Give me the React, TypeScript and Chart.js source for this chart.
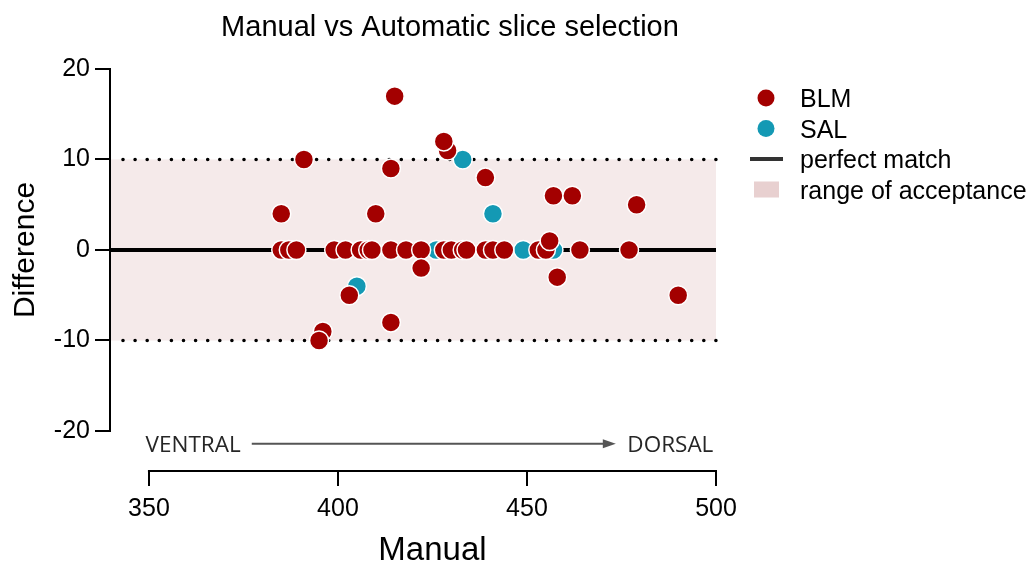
import React, { useEffect, useRef } from "react";
import { Chart, registerables } from "chart.js";

Chart.register(...registerables);

// ---------- data ----------
const blmManual = [
  385, 387, 389, 399, 402, 406, 408, 409, 414, 418, 422, 428, 430, 433, 434, 439, 441, 444, 453, 455, 464, 477,
  385, 391, 396, 395, 403, 410, 414, 414, 415, 422, 429, 428, 439, 457, 458, 462, 456, 479, 490,
];
const blmDiff = [
  0, 0, 0, 0, 0, 0, 0, 0, 0, 0, 0, 0, 0, 0, 0, 0, 0, 0, 0, 0, 0, 0,
  4, 10, -9, -10, -5, 4, 9, -8, 17, -2, 11, 12, 8, 6, -3, 6, 1, 5, -5,
];
const salManual = [405, 426, 433, 441, 449, 457];
const salDiff = [-4, 0, 10, 4, 0, 0];

const xTicks = [350, 400, 450, 500];
const yTicks = [-20, -10, 0, 10, 20];
const acceptanceLimit = 10;
const perfectMatch = 0;

const chartTitle = "Manual vs Automatic slice selection";
const xTitle = "Manual";
const yTitle = "Difference";
const legendLabels = ["BLM", "SAL", "perfect match", "range of acceptance"];
const directionLabels = ["VENTRAL", "DORSAL"];

// ---------- style ----------
const BLM_COLOR = "#a30000";
const SAL_COLOR = "#1499b4";
const BAND_COLOR = "#f5eaea";
const PATCH_COLOR = "#e8d0d0";
const FONT = "'Liberation Sans', Arial, sans-serif";

const overlayPlugin = {
  id: "overlay",
  beforeDatasetsDraw(chart: any) {
    const { ctx, chartArea: ca, scales } = chart;
    const y = scales.y;
    ctx.save();
    const yTop = y.getPixelForValue(acceptanceLimit);
    const yBot = y.getPixelForValue(-acceptanceLimit);
    ctx.fillStyle = BAND_COLOR;
    ctx.fillRect(ca.left, yTop, ca.right - ca.left, yBot - yTop);

    ctx.strokeStyle = "#000";
    ctx.lineWidth = 3.6;
    ctx.lineCap = "round";
    ctx.setLineDash([0, 12.1]);
    for (const v of [acceptanceLimit, -acceptanceLimit]) {
      const py = y.getPixelForValue(v);
      ctx.beginPath();
      ctx.moveTo(ca.left + 13, py);
      ctx.lineTo(ca.right, py);
      ctx.stroke();
    }
    ctx.setLineDash([]);
    ctx.lineCap = "butt";
    ctx.lineWidth = 4;
    const p0 = y.getPixelForValue(perfectMatch);
    ctx.beginPath();
    ctx.moveTo(ca.left, p0);
    ctx.lineTo(ca.right, p0);
    ctx.stroke();
    ctx.restore();
  },
  afterDraw(chart: any) {
    const { ctx, chartArea: ca, scales } = chart;
    const x = scales.x;
    const y = scales.y;
    ctx.save();
    // trimmed axis lines
    const yAxTop = y.getPixelForValue(yTicks[yTicks.length - 1]);
    const yAxBot = y.getPixelForValue(yTicks[0]);
    const xAxL = x.getPixelForValue(xTicks[0]);
    const xAxR = x.getPixelForValue(xTicks[xTicks.length - 1]);
    ctx.strokeStyle = "#000";
    ctx.lineWidth = 2;
    ctx.beginPath();
    ctx.moveTo(ca.left, yAxTop - 1);
    ctx.lineTo(ca.left, yAxBot + 1);
    ctx.stroke();
    ctx.beginPath();
    ctx.moveTo(xAxL - 1, ca.bottom);
    ctx.lineTo(xAxR + 1, ca.bottom);
    ctx.stroke();

    // axis titles, centred on the trimmed axes
    ctx.fillStyle = "#000";
    ctx.textBaseline = "alphabetic";
    ctx.textAlign = "center";
    ctx.font = `33px ${FONT}`;
    ctx.fillText(xTitle, (xAxL + xAxR) / 2, 560);
    ctx.save();
    ctx.translate(34, (yAxTop + yAxBot) / 2);
    ctx.rotate(-Math.PI / 2);
    ctx.font = `30px ${FONT}`;
    ctx.fillText(yTitle, 0, 0);
    ctx.restore();

    // direction arrow
    const ay = y.getPixelForValue(-21.4);
    const ax1 = x.getPixelForValue(377.2);
    const ax2 = x.getPixelForValue(473.5);
    ctx.strokeStyle = "#555";
    ctx.fillStyle = "#555";
    ctx.lineWidth = 2;
    ctx.beginPath();
    ctx.moveTo(ax1, ay);
    ctx.lineTo(ax2 - 10, ay);
    ctx.stroke();
    ctx.beginPath();
    ctx.moveTo(ax2, ay);
    ctx.lineTo(ax2 - 13, ay - 4.5);
    ctx.lineTo(ax2 - 13, ay + 4.5);
    ctx.closePath();
    ctx.fill();

    ctx.fillStyle = "#262626";
    ctx.font = "22.5px 'Open Sans', sans-serif";
    ctx.textAlign = "left";
    ctx.fillText(directionLabels[0], x.getPixelForValue(349.1), ay + 8.5);
    ctx.textAlign = "right";
    ctx.fillText(directionLabels[1], x.getPixelForValue(499.3), ay + 8.5);

    // title
    ctx.fillStyle = "#000";
    ctx.font = `29px ${FONT}`;
    ctx.textAlign = "center";
    ctx.fillText(chartTitle, 450, 36);

    // legend
    const lx = 766;
    const rows = [98, 128.5, 159, 189.5];
    ctx.fillStyle = BLM_COLOR;
    ctx.beginPath();
    ctx.arc(lx, rows[0], 8.5, 0, Math.PI * 2);
    ctx.fill();
    ctx.fillStyle = SAL_COLOR;
    ctx.beginPath();
    ctx.arc(lx, rows[1], 8.5, 0, Math.PI * 2);
    ctx.fill();
    ctx.strokeStyle = "#333";
    ctx.lineWidth = 4;
    ctx.beginPath();
    ctx.moveTo(750, rows[2]);
    ctx.lineTo(783, rows[2]);
    ctx.stroke();
    ctx.fillStyle = PATCH_COLOR;
    ctx.fillRect(754, rows[3] - 8, 25, 16);

    ctx.fillStyle = "#000";
    ctx.font = `25px ${FONT}`;
    ctx.textAlign = "left";
    legendLabels.forEach((t, i) => ctx.fillText(t, 800, rows[i] + 9));
    ctx.restore();
  },
};

export default function App() {
  const ref = useRef<HTMLCanvasElement | null>(null);

  useEffect(() => {
    document.body.style.margin = "0";
    if (!ref.current) return;
    Chart.defaults.font.family = FONT;
    const chart = new Chart(ref.current, {
      type: "scatter",
      data: {
        datasets: [
          {
            label: legendLabels[0],
            data: blmManual.map((v, i) => ({ x: v, y: blmDiff[i] })),
            backgroundColor: BLM_COLOR,
            borderColor: "#ffffff",
            borderWidth: 1.5,
            pointRadius: 9.5,
            pointHoverRadius: 9.5,
          },
          {
            label: legendLabels[1],
            data: salManual.map((v, i) => ({ x: v, y: salDiff[i] })),
            backgroundColor: SAL_COLOR,
            borderColor: "#ffffff",
            borderWidth: 1.5,
            pointRadius: 9.5,
            pointHoverRadius: 9.5,
          },
        ],
      },
      options: {
        responsive: false,
        animation: false,
        events: [],
        layout: { padding: { left: 0, top: 69, right: 313, bottom: 0 } },
        plugins: {
          legend: { display: false },
          title: { display: false },
          tooltip: { enabled: false },
        },
        scales: {
          x: {
            type: "linear",
            min: 339.7,
            max: 500,
            afterBuildTicks: (s: any) => {
              s.ticks = xTicks.map((v) => ({ value: v }));
            },
            afterFit: (s: any) => {
              s.height = 91;
            },
            grid: {
              display: true,
              drawOnChartArea: false,
              drawTicks: true,
              tickLength: 15,
              color: "#000",
              lineWidth: 2,
            },
            border: { display: false },
            ticks: {
              color: "#000",
              font: { size: 25, family: FONT },
              padding: 8,
              maxRotation: 0,
              autoSkip: false,
            },
            title: { display: false },
          },
          y: {
            type: "linear",
            min: -24.42,
            max: 20,
            afterBuildTicks: (s: any) => {
              s.ticks = yTicks.map((v) => ({ value: v }));
            },
            afterFit: (s: any) => {
              s.width = 110;
            },
            grid: {
              display: true,
              drawOnChartArea: false,
              drawTicks: true,
              tickLength: 15,
              color: "#000",
              lineWidth: 2,
            },
            border: { display: false },
            ticks: {
              color: "#000",
              font: { size: 25, family: FONT },
              padding: 5,
              autoSkip: false,
            },
            title: { display: false },
          },
        },
      },
      plugins: [overlayPlugin],
    } as any);
    return () => chart.destroy();
  }, []);

  return (
    <div style={{ width: 1029, height: 562 }}>
      <canvas ref={ref} width={1029} height={562} />
    </div>
  );
}
